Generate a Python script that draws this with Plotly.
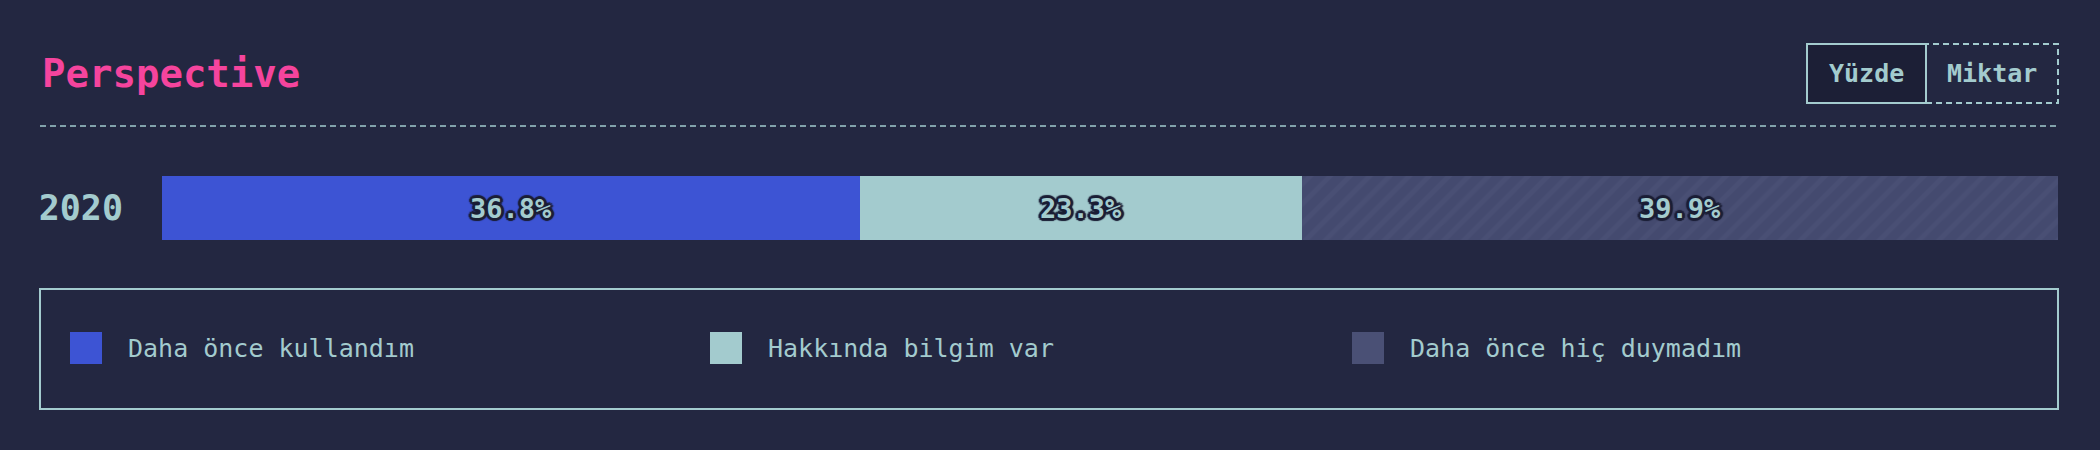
import plotly.graph_objects as go

# ---- data ----
years = ["2020"]
series_names = ["Daha önce kullandım", "Hakkında bilgim var", "Daha önce hiç duymadım"]
used_before = [36.8]
know_about = [23.3]
never_heard = [39.9]
title_text = "Perspective"
toggle_labels = ["Yüzde", "Miktar"]

# ---- style ----
W, H = 2100, 450
BG = "#232741"
TEAL = "#a3cbce"
BLUE = "#3d54d4"
GREY = "#444a6f"
STRIPE = "#4d5379"
PINK = "#f5449d"
DARK = "#1c1f36"
MONO = "DejaVu Sans Mono"


def px(x):
    return x / W


def py(y):
    return 1 - y / H


series_values = [used_before, know_about, never_heard]
series_colors = [BLUE, TEAL, GREY]
legend_colors = [BLUE, TEAL, "#4a5075"]

outline = ", ".join(
    f"{dx}px {dy}px 1px {DARK}"
    for dx, dy in [(2, 0), (-2, 0), (0, 2), (0, -2), (2, 2), (-2, -2), (2, -2), (-2, 2), (3, 0), (-3, 0), (0, 3), (0, -3)]
)

fig = go.Figure()
for i, (name, vals, col) in enumerate(zip(series_names, series_values, series_colors)):
    marker = dict(color=col, line=dict(width=0))
    if i == 2:
        marker["pattern"] = dict(shape="/", fgcolor=STRIPE, bgcolor=GREY, size=14, solidity=0.35)
    fig.add_trace(go.Bar(
        y=years, x=vals, name=name, orientation="h", width=1,
        marker=marker,
        texttemplate="%{x:.1f}%", textposition="inside", insidetextanchor="middle",
        textfont=dict(family=MONO, size=27, color=TEAL, weight="bold", shadow=outline),
        hoverinfo="skip", showlegend=False,
    ))

shapes = []
annotations = []

# title
annotations.append(dict(x=px(40), y=py(74), xref="paper", yref="paper", xanchor="left", yanchor="middle",
                        text=title_text, showarrow=False,
                        font=dict(family=MONO, size=39, color=PINK, weight="bold")))
# dashed rule
shapes.append(dict(type="line", xref="paper", yref="paper", x0=px(40), x1=px(2059), y0=py(126), y1=py(126),
                   line=dict(color=TEAL, width=1.5, dash="6px,4px")))
# toggle buttons
shapes.append(dict(type="rect", xref="paper", yref="paper", x0=px(1926), x1=px(2058), y0=py(103), y1=py(44),
                   line=dict(color=TEAL, width=2, dash="6px,4px"), fillcolor="rgba(0,0,0,0)"))
shapes.append(dict(type="rect", xref="paper", yref="paper", x0=px(1807), x1=px(1926), y0=py(103), y1=py(44),
                   line=dict(color=TEAL, width=2), fillcolor=DARK))
for lbl, cx in zip(toggle_labels, [1866.5, 1992]):
    annotations.append(dict(x=px(cx), y=py(73), xref="paper", yref="paper", xanchor="center", yanchor="middle",
                            text=lbl, showarrow=False,
                            font=dict(family=MONO, size=25, color=TEAL, weight="bold")))

# legend box
shapes.append(dict(type="rect", xref="paper", yref="paper", x0=px(40), x1=px(2058), y0=py(409), y1=py(289),
                   line=dict(color=TEAL, width=2), fillcolor="rgba(0,0,0,0)"))
for name, col, sx in zip(series_names, legend_colors, [70, 710, 1352]):
    shapes.append(dict(type="rect", xref="paper", yref="paper", x0=px(sx), x1=px(sx + 32), y0=py(364), y1=py(332),
                       line=dict(width=0), fillcolor=col))
    annotations.append(dict(x=px(sx + 56), y=py(348), xref="paper", yref="paper", xanchor="left", yanchor="middle",
                            text=name, showarrow=False,
                            font=dict(family=MONO, size=25, color=TEAL)))

fig.update_layout(
    width=W, height=H, autosize=False,
    margin=dict(l=0, r=0, t=0, b=0),
    paper_bgcolor=BG, plot_bgcolor=BG,
    barmode="stack", bargap=0,
    shapes=shapes, annotations=annotations,
    xaxis=dict(domain=[px(162), px(2058)], range=[0, 100], showgrid=False, zeroline=False,
               showticklabels=False, fixedrange=True),
    yaxis=dict(domain=[py(240), py(176)], type="category", range=[-0.5, 0.5], showgrid=False,
               zeroline=False, ticks="", ticklabelstandoff=38,
               tickfont=dict(family=MONO, size=35, color=TEAL, weight="bold"), fixedrange=True),
)

post = ("document.body.style.margin='0';document.body.style.padding='0';"
        "document.body.style.background='" + BG + "';document.body.style.overflow='hidden';")
fig.write_html("out.html", config={"displayModeBar": False}, post_script=post)
